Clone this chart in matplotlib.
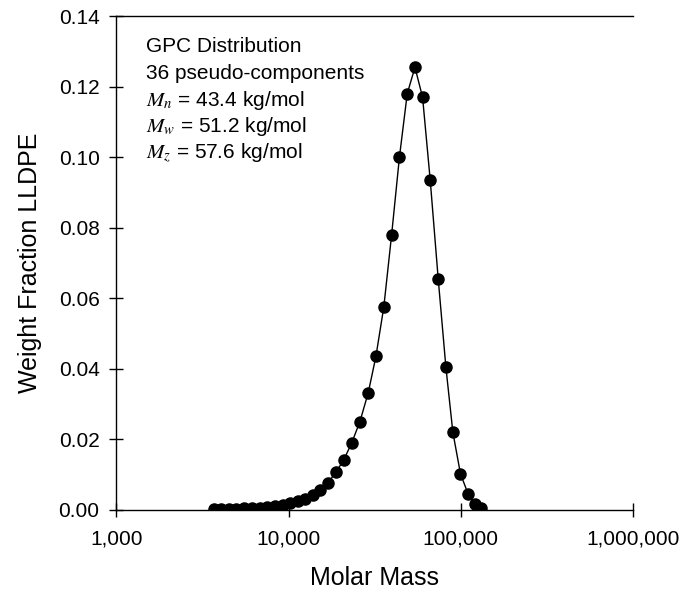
import matplotlib
matplotlib.use('Agg')
import matplotlib.pyplot as plt
import numpy as np

plt.rcParams['font.family'] = ['Liberation Sans', 'DejaVu Sans']
plt.rcParams['mathtext.fontset'] = 'stix'

# molar mass of each pseudo-component
molar_mass = [3705, 4067, 4494, 4970, 5492, 6115, 6786, 7516, 8370, 9283,
              10240, 11300, 12500, 13810, 15270, 16890, 18800, 20900, 23280, 25960,
              29020, 32150, 35720, 39660, 44020, 48860, 54180, 59980, 66430, 73920,
              81900, 89900, 99540, 110400, 121300, 130900]
weight_frac = [0.0002, 0.0002, 0.0003, 0.0003, 0.0004, 0.0005, 0.0006, 0.0008, 0.0010, 0.0014,
               0.0019, 0.0024, 0.0031, 0.0043, 0.0057, 0.0076, 0.0106, 0.0141, 0.0190, 0.0250,
               0.0332, 0.0435, 0.0575, 0.0780, 0.1000, 0.1180, 0.1255, 0.1170, 0.0935, 0.0655,
               0.0405, 0.0220, 0.0102, 0.0044, 0.0016, 0.0004]

x_ticks = [1e3, 1e4, 1e5, 1e6]
x_tick_labels = ['1,000', '10,000', '100,000', '1,000,000']
y_ticks = [0.00, 0.02, 0.04, 0.06, 0.08, 0.10, 0.12, 0.14]

notes = ['GPC Distribution',
         '36 pseudo-components',
         r'$M_n$ = 43.4 kg/mol',
         r'$M_w$ = 51.2 kg/mol',
         r'$M_z$ = 57.6 kg/mol']

fig = plt.figure(figsize=(6.8, 5.99), dpi=100)
ax = fig.add_axes([0.171, 0.149, 0.76, 0.824])

ax.plot(molar_mass, weight_frac, color='black', lw=1.0,
        marker='o', ms=8, mfc='black', mec='black')

ax.set_xscale('log')
ax.set_xlim(1e3, 1e6)
ax.set_ylim(0, 0.14)
ax.set_xticks(x_ticks)
ax.set_xticklabels(x_tick_labels)
ax.minorticks_off()
ax.set_yticks(y_ticks)
ax.set_yticklabels(['%.2f' % v for v in y_ticks])
ax.tick_params(direction='inout', length=10, width=1, labelsize=15)
ax.tick_params(axis='x', pad=9, top=False)
ax.tick_params(axis='y', pad=7, right=False)

ax.spines['right'].set_visible(False)
for s in ['left', 'bottom', 'top']:
    ax.spines[s].set_linewidth(1.0)

ax.set_xlabel('Molar Mass', fontsize=18, labelpad=13)
ax.set_ylabel('Weight Fraction LLDPE', fontsize=18, labelpad=12)

for i, line in enumerate(notes):
    ax.text(0.058, 0.938 - i * 0.054, line, transform=ax.transAxes,
            fontsize=15, va='center', ha='left')

fig.savefig('out.png', dpi=100)
